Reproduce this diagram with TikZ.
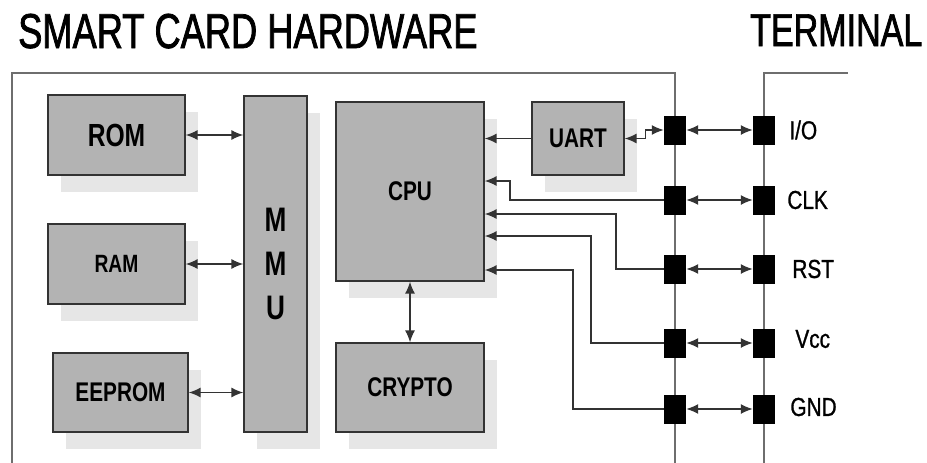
\documentclass[tikz,border=0pt]{standalone}
\usepackage{fontspec}
\setmainfont{Liberation Sans}
\newfontfamily\titlefont{Liberation Sans}[FakeStretch=0.74, FakeBold=1.5]
\newfontfamily\boxfont{Liberation Sans}[FakeStretch=0.77]
\newfontfamily\pinfont{Liberation Sans}[FakeStretch=0.80, FakeBold=1]
\usetikzlibrary{arrows.meta, positioning, shadows}
\definecolor{cbox}{HTML}{B3B3B3}
\definecolor{cshadow}{HTML}{E6E6E6}
\definecolor{cedge}{HTML}{333333}
\definecolor{cline}{HTML}{333333}
\definecolor{cframe}{HTML}{6E6E6E}
\tikzset{
  box/.style={draw=cedge, fill=cbox, line width=1.2pt, inner sep=0pt, align=center,
    font=\boxfont\bfseries\fontsize{27}{30}\selectfont,
    drop shadow={shadow xshift=13pt, shadow yshift=-17pt, fill=cshadow, opacity=1}},
  pin/.style={fill=black, minimum width=22pt, minimum height=29pt, inner sep=0pt},
  pinlabel/.style={font=\pinfont\fontsize{26}{26}\selectfont, inner sep=2pt, anchor=west},
  arrow/.style={-{Latex[length=12pt, width=10pt]}, draw=cline, line width=1.5pt},
  biarrow/.style={{Latex[length=12pt, width=10pt]}-{Latex[length=12pt, width=10pt]}, draw=cline, line width=1.5pt},
  frame/.style={draw=cframe, line width=1.5pt},
  title/.style={font=\titlefont\fontsize{49}{49}\selectfont, inner sep=0pt, anchor=base west},
}

\begin{document}
\begin{tikzpicture}[x=1pt, y=-1pt, node distance=12pt]
  \useasboundingbox (0,0) rectangle (927,463);
  \node[title] (hwtitle) at (18,48) {SMART CARD HARDWARE};
  \node[title, font=\titlefont\fontsize{46}{46}\selectfont] (termtitle) at (750,46) {TERMINAL};
  % card and terminal outlines
  \draw[frame] (12,463) |- (675,73) -- (675,463);
  \draw[frame] (764,463) |- (848,73);
  % memories and MMU
  \node[box, minimum width=137pt, minimum height=80pt, font=\boxfont\bfseries\fontsize{32}{32}\selectfont] (rom) at (116.5,135) {ROM};
  \node[box, minimum width=137pt, minimum height=80pt, font=\boxfont\bfseries\fontsize{25}{25}\selectfont] (ram) at (116.5,264) {RAM};
  \node[box, minimum width=135pt, minimum height=79pt] (eeprom) at (120.5,392.5) {EEPROM};
  \node[box, minimum width=63pt, minimum height=336pt, font=\boxfont\bfseries\fontsize{34}{44}\selectfont] (mmu) at (275.5,264) {M\\M\\U};
  \draw[biarrow] (rom.east) -- (rom.east -| mmu.west);
  \draw[biarrow] (ram.east) -- (ram.east -| mmu.west);
  \draw[biarrow] (eeprom.east) -- (eeprom.east -| mmu.west);
  % processor side
  \node[box, minimum width=148pt, minimum height=179pt] (cpu) at (410,191.5) {CPU};
  \node[box, minimum width=148pt, minimum height=89pt] (crypto) at (410,387.5) {CRYPTO};
  \node[box, minimum width=92pt, minimum height=73pt] (uart) at (578,138.5) {UART};
  \draw[biarrow] (cpu) -- (crypto);
  \draw[arrow] (uart.west) -- (uart.west -| cpu.east);
  % contacts
  \foreach \name/\y in {io/130, clk/200, rst/269, vcc/343, gnd/409} {
    \node[pin] (c\name) at (675,\y) {};
    \node[pin] (t\name) at (764,\y) {};
    \draw[biarrow] (c\name) -- (t\name);
  }
  \node[pinlabel, right=12pt of tio] (lio) {I/O};
  \node[pinlabel, right=10pt of tclk] (lclk) {CLK};
  \node[pinlabel, right=15pt of trst] (lrst) {RST};
  \node[pinlabel, right=18pt of tvcc, yshift=4pt] (lvcc) {Vcc};
  \node[pinlabel, right=13pt of tgnd, yshift=2pt] (lgnd) {GND};
  \draw[biarrow] (uart.east) -- ++(21,0) |- (cio.west);
  \draw[arrow] (cclk.west) -- ++(-154,0) |- ([yshift=10.5pt]cpu.east);
  \draw[arrow] (crst.west) -- ++(-48,0) |- ([yshift=-22.5pt]cpu.east);
  \draw[arrow] (cvcc.west) -- ++(-73,0) |- ([yshift=-44.5pt]cpu.east);
  \draw[arrow] (cgnd.west) -- ++(-91,0) |- ([yshift=-78.5pt]cpu.east);
\end{tikzpicture}
\end{document}
